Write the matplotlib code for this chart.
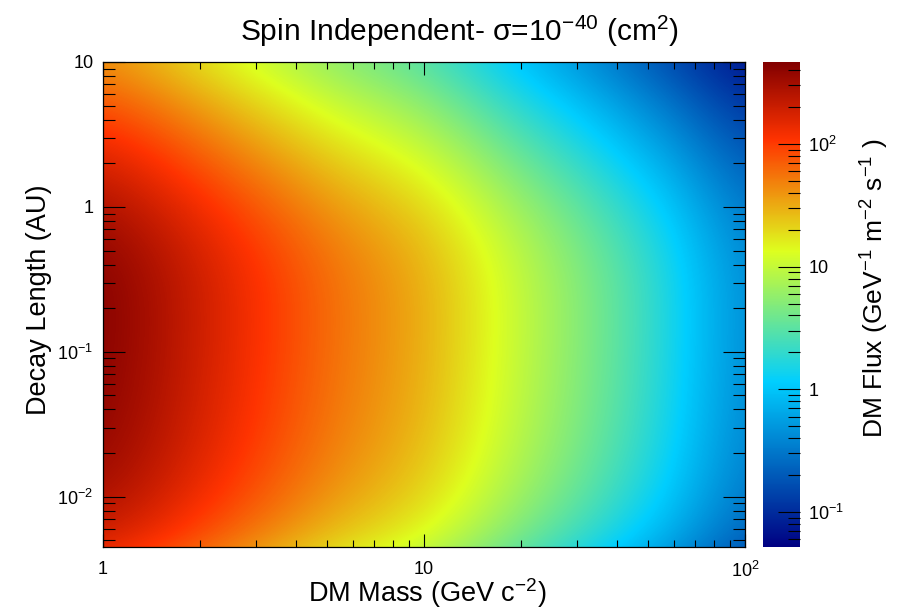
import numpy as np
import matplotlib
matplotlib.use("Agg")
import matplotlib.pyplot as plt
from matplotlib.colors import LinearSegmentedColormap, Normalize

plt.rcParams['font.family'] = ['Liberation Sans', 'DejaVu Sans']
plt.rcParams['mathtext.fontset'] = 'custom'
plt.rcParams['mathtext.rm'] = 'Liberation Sans'
plt.rcParams['mathtext.it'] = 'Liberation Sans:italic'
plt.rcParams['mathtext.default'] = 'regular'

# sampling nodes (quarter decade steps)
mass_nodes = [1.0, 1.78, 3.16, 5.62, 10.0, 17.8, 31.6, 56.2, 100.0]          # GeV c^-2
decay_nodes = [0.00316, 0.00562, 0.01, 0.0178, 0.0316, 0.0562, 0.1, 0.178,
               0.316, 0.562, 1.0, 1.78, 3.16, 5.62, 10.0]                     # AU

# DM flux, one row per decay length (GeV^-1 m^-2 s^-1)
flux = [
    [107, 53.8, 25.7, 12.6, 7.58, 2.81, 1.15, 0.427, 0.130],
    [205, 103, 49.0, 24.0, 14.5, 5.36, 2.19, 0.815, 0.212],
    [294, 147, 70.4, 34.5, 20.8, 7.70, 3.15, 1.17, 0.277],
    [360, 180, 86.1, 42.3, 25.4, 9.42, 3.86, 1.43, 0.323],
    [404, 202, 96.7, 47.5, 28.6, 10.6, 4.33, 1.61, 0.352],
    [431, 216, 103, 50.6, 30.5, 11.3, 4.62, 1.72, 0.370],
    [447, 224, 107, 52.5, 31.6, 11.7, 4.79, 1.78, 0.380],
    [454, 228, 109, 53.3, 32.1, 11.9, 4.87, 1.81, 0.385],
    [441, 221, 106, 51.8, 31.2, 11.5, 4.72, 1.76, 0.376],
    [385, 193, 92.1, 45.2, 27.2, 10.1, 4.12, 1.53, 0.340],
    [294, 147, 70.4, 34.5, 20.8, 7.70, 3.15, 1.17, 0.277],
    [200, 100, 47.9, 23.5, 14.2, 5.24, 2.15, 0.797, 0.208],
    [126, 63.2, 30.2, 14.8, 8.91, 3.30, 1.35, 0.502, 0.147],
    [76.0, 38.1, 18.2, 8.93, 5.37, 1.99, 0.814, 0.303, 0.100],
    [44.3, 22.2, 10.6, 5.20, 3.13, 1.16, 0.475, 0.176, 0.0673],
]

x_range = (1.0, 100.0)
y_range = (0.0045, 10.0)
z_range = (0.0518, 466.0)

# ROOT 5-stop rainbow palette
stops = [0.00, 0.34, 0.61, 0.84, 1.00]
red = [0.00, 0.00, 0.87, 1.00, 0.51]
green = [0.00, 0.81, 1.00, 0.20, 0.00]
blue = [0.51, 1.00, 0.12, 0.00, 0.00]
cmap = LinearSegmentedColormap.from_list(
    "root", list(zip(stops, zip(red, green, blue))), N=512)

lx = np.log10(mass_nodes)
ly = np.log10(decay_nodes)
lz = np.log10(np.array(flux))
dx = (lx[-1] - lx[0]) / (len(lx) - 1)
dy = (ly[-1] - ly[0]) / (len(ly) - 1)

W, H = 919, 609
fig = plt.figure(figsize=(W / 100, H / 100), dpi=100)
ax = fig.add_axes([103 / W, 1 - 547 / H, (745 - 103) / W, (547 - 62) / H])
cax = fig.add_axes([763 / W, 1 - 547 / H, (800 - 763) / W, (547 - 62) / H])

norm = Normalize(np.log10(z_range[0]), np.log10(z_range[1]))
im = ax.imshow(lz, origin="lower", aspect="auto", cmap=cmap, norm=norm,
               interpolation="bicubic", interpolation_stage="data",
               extent=[lx[0] - dx / 2, lx[-1] + dx / 2, ly[0] - dy / 2, ly[-1] + dy / 2])
ax.set_xlim(np.log10(x_range[0]), np.log10(x_range[1]))
ax.set_ylim(np.log10(y_range[0]), np.log10(y_range[1]))


def log_minor(lo, hi):
    out = []
    for d in range(int(np.floor(lo)) - 1, int(np.ceil(hi)) + 1):
        for k in range(2, 10):
            v = np.log10(k) + d
            if lo <= v <= hi:
                out.append(v)
    return out


def dec_label(d):
    return {0: "1", 1: "10"}.get(d, "10$^{%d}$" % d)


xlo, xhi = ax.get_xlim()
ylo, yhi = ax.get_ylim()
ax.set_xticks([0, 1, 2])
ax.set_xticklabels([dec_label(d) for d in [0, 1, 2]])
ax.set_xticks(log_minor(xlo, xhi), minor=True)
ax.set_yticks([-2, -1, 0, 1])
ax.set_yticklabels([dec_label(d) for d in [-2, -1, 0, 1]])
ax.set_yticks(log_minor(ylo, yhi), minor=True)
ax.tick_params(axis="x", which="both", direction="in", top=True, bottom=True,
               labelsize=13, pad=10, width=0.8)
ax.tick_params(axis="x", which="major", length=9.5)
ax.tick_params(axis="x", which="minor", length=5)
ax.tick_params(axis="y", which="both", direction="in", left=True, right=True,
               labelsize=13, pad=7, width=0.8)
ax.tick_params(axis="y", which="major", length=16)
ax.tick_params(axis="y", which="minor", length=8.5)
for s in ax.spines.values():
    s.set_linewidth(0.9)

cb = fig.colorbar(im, cax=cax)
cb.outline.set_visible(False)
zlo, zhi = norm.vmin, norm.vmax
cax.yaxis.set_ticks_position("right")
cax.set_yticks([-1, 0, 1, 2])
cax.set_yticklabels([dec_label(d) for d in [-1, 0, 1, 2]])
cax.set_yticks(log_minor(zlo, zhi), minor=True)
cax.tick_params(axis="y", which="both", direction="in", labelsize=13, pad=6, width=0.8)
cax.tick_params(axis="y", which="major", length=16)
cax.tick_params(axis="y", which="minor", length=8.5)

fig.text(0.5, 1 - 31 / H, "Spin Independent- σ=10$^{-40}$ (cm$^{2}$)",
         ha="center", va="center", fontsize=21.5)
fig.text(427 / W, 1 - 593 / H, "DM Mass (GeV c$^{-2}$)",
         ha="center", va="center", fontsize=19.5)
fig.text(39 / W, 1 - 300 / H, "Decay Length (AU)", rotation=90,
         ha="center", va="center", fontsize=19.5)
fig.text(875 / W, 1 - 288 / H, "DM Flux (GeV$^{-1}$ m$^{-2}$ s$^{-1}$ )", rotation=90,
         ha="center", va="center", fontsize=19)

fig.savefig("out.png", dpi=100)
